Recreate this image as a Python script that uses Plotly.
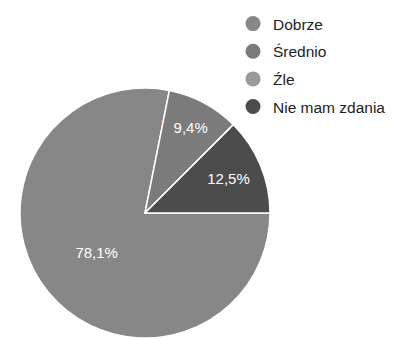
import plotly.graph_objects as go

labels = ["Dobrze", "Średnio", "Źle", "Nie mam zdania"]
values = [25, 3, 0, 4]
colors = ["#878787", "#7b7b7b", "#9a9a9a", "#4c4c4c"]

fig = go.Figure()
fig.add_trace(go.Pie(
    labels=labels, values=values, sort=False, direction="clockwise", rotation=90,
    marker=dict(colors=colors, line=dict(color="white", width=1.5)),
    texttemplate="%{percent:.1%}", textposition="inside",
    insidetextfont=dict(color="white", size=15, family="Liberation Sans, Arial"),
    insidetextorientation="horizontal",
    showlegend=False, hoverinfo="label+percent",
    domain=dict(x=[20/395, 270/395], y=[1-338/339, 1-88/339]),
))
for lab, col in zip(labels, colors):
    fig.add_trace(go.Scatter(x=[None], y=[None], mode="markers", name=lab, legendgroup=lab,
                             marker=dict(symbol="circle", size=15, color=col)))

fig.update_layout(
    width=395, height=339, margin=dict(l=0, r=0, t=0, b=0),
    paper_bgcolor="white", plot_bgcolor="white",
    separators=", ",
    xaxis=dict(visible=False), yaxis=dict(visible=False),
    legend=dict(x=233/395, y=1-7/339, xanchor="left", yanchor="top",
                font=dict(size=15.5, color="#222222", family="Liberation Sans, Arial"),
                itemwidth=30, tracegroupgap=4.5, bgcolor="rgba(0,0,0,0)"),
)
fig.write_html("out.html")
